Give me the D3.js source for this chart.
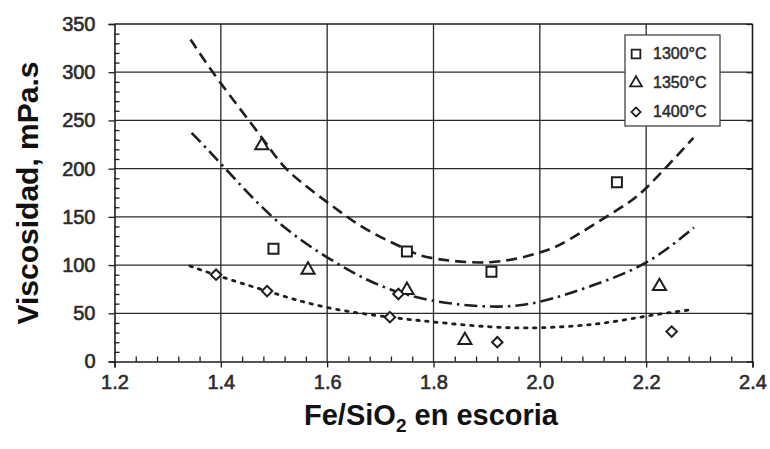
<!DOCTYPE html>
<html>
<head>
<meta charset="utf-8">
<script src="https://cdn.jsdelivr.net/npm/d3@7/dist/d3.min.js"></script>
<style>
  html, body { margin: 0; padding: 0; background: #fff; }
  svg { display: block; }
  text { font-family: "Liberation Sans", Arial, sans-serif; }
</style>
</head>
<body>
<svg id="chart" width="770" height="449"></svg>
<script>
// Axis ticks
const xTicks = [1.2, 1.4, 1.6, 1.8, 2.0, 2.2, 2.4];
const yTicks = [0, 50, 100, 150, 200, 250, 300, 350];

// Measured viscosity (mPa.s) against Fe/SiO2 ratio
const pts1300 = [[1.499, 117], [1.750, 114], [1.909, 93], [2.145, 186]];
const pts1350 = [[1.477, 224], [1.564, 95], [1.750, 74], [1.859, 22], [2.225, 78]];
const pts1400 = [[1.391, 90], [1.487, 73], [1.734, 70], [1.718, 46], [1.920, 20], [2.248, 31]];

// Fitted trend curves
const fit1300 = [[1.343, 334], [1.398, 290], [1.48, 230], [1.53, 196], [1.603, 164], [1.674, 137],
                 [1.75, 116], [1.8, 107], [1.906, 103], [2.0, 113], [2.057, 127], [2.145, 157],
                 [2.202, 181], [2.289, 232]];
const fit1350 = [[1.345, 237], [1.402, 204], [1.499, 149], [1.603, 107], [1.699, 79], [1.8, 63],
                 [1.91, 57], [2.0, 62], [2.1, 79], [2.201, 103], [2.29, 139]];
const fit1400 = [[1.342, 99], [1.4, 88], [1.487, 73], [1.6, 56], [1.718, 46], [1.8, 41],
                 [1.906, 36], [2.0, 35], [2.107, 39], [2.2, 47], [2.289, 54]];

const legendLabels = ["1300°C", "1350°C", "1400°C"];

const svg = d3.select("#chart");
const ink = "#1e1e1e";

const x = d3.scaleLinear().domain([1.2, 2.4]).range([114.5, 752.5]);
const y = d3.scaleLinear().domain([0, 350]).range([361.5, 24]);

const xMinor = d3.range(1.2, 2.4001, 0.04).filter(v => !xTicks.some(t => Math.abs(t - v) < 1e-6));
const yMinor = d3.range(0, 351, 10).filter(v => v % 50 !== 0);

// Grid
const grid = svg.append("g").attr("stroke", "#2a2a2a").attr("stroke-width", 1.3);
grid.selectAll(".gx").data(xTicks.slice(1, -1)).join("line")
  .attr("x1", d => x(d)).attr("x2", d => x(d)).attr("y1", y(350)).attr("y2", y(0));
grid.selectAll(".gy").data(yTicks.slice(1, -1)).join("line")
  .attr("x1", x(1.2)).attr("x2", x(2.4)).attr("y1", d => y(d)).attr("y2", d => y(d));

// Bottom axis: major ticks hang below, minor ticks point inward
svg.append("g").attr("transform", `translate(0,${y(0)})`)
  .call(d3.axisBottom(x).tickValues(xTicks).tickSize(6).tickPadding(7).tickFormat(d3.format(".1f")));
svg.append("g").attr("transform", `translate(0,${y(0)})`)
  .call(d3.axisBottom(x).tickValues(xMinor).tickSize(-5).tickFormat(""))
  .call(g => g.select(".domain").remove());

svg.append("g").attr("transform", `translate(${x(1.2)},0)`)
  .call(d3.axisLeft(y).tickValues(yTicks).tickSize(6).tickPadding(13).tickFormat(d3.format("d")));
svg.append("g").attr("transform", `translate(${x(1.2)},0)`)
  .call(d3.axisLeft(y).tickValues(yMinor).tickSize(-5).tickFormat(""))
  .call(g => g.select(".domain").remove());

svg.selectAll(".domain").attr("stroke", ink).attr("stroke-width", 1.6);
svg.selectAll(".tick line").attr("stroke", ink).attr("stroke-width", 1.3);
svg.selectAll(".tick text").attr("fill", "#2b2b2b").attr("font-size", 20)
  .attr("stroke", "#2b2b2b").attr("stroke-width", 0.6);

// Top and right border with inward ticks
svg.append("line").attr("x1", x(1.2)).attr("x2", x(2.4)).attr("y1", y(350)).attr("y2", y(350))
  .attr("stroke", ink).attr("stroke-width", 1.6);
svg.append("line").attr("x1", x(2.4)).attr("x2", x(2.4)).attr("y1", y(350)).attr("y2", y(0))
  .attr("stroke", ink).attr("stroke-width", 1.6);
svg.append("g").attr("transform", `translate(${x(2.4)},0)`)
  .call(d3.axisRight(y).tickValues(yTicks).tickSize(-6).tickFormat(""))
  .call(g => g.select(".domain").remove())
  .selectAll("line").attr("stroke", ink).attr("stroke-width", 1.3);

// Trend curves
const line = d3.line().x(d => x(d[0])).y(d => y(d[1])).curve(d3.curveNatural);
const curves = svg.append("g").attr("fill", "none").attr("stroke", ink).attr("stroke-width", 2.6);
curves.append("path").attr("d", line(fit1300)).attr("stroke-dasharray", "11,6");
curves.append("path").attr("d", line(fit1350)).attr("stroke-dasharray", "13,5,2.5,5");
curves.append("path").attr("d", line(fit1400)).attr("stroke-dasharray", "2.5,6.5")
  .attr("stroke-linecap", "round").attr("stroke-width", 2.8);

// Markers
const symSquare = d3.symbol().type(d3.symbolSquare).size(100);
const symTri = d3.symbol().type(d3.symbolTriangle).size(75);
const symDia = d3.symbol().type(d3.symbolSquare).size(55);

function drawMarkers(data, sym, rotate) {
  svg.append("g").selectAll("path").data(data).join("path")
    .attr("transform", d => `translate(${x(d[0])},${y(d[1])}) rotate(${rotate})`)
    .attr("d", sym()).attr("fill", "#fff").attr("stroke", ink).attr("stroke-width", 2);
}
drawMarkers(pts1300, symSquare, 0);
drawMarkers(pts1350, symTri, 0);
drawMarkers(pts1400, symDia, 45);

// Legend
const lg = svg.append("g").attr("transform", "translate(625,35)");
lg.append("rect").attr("width", 95).attr("height", 91).attr("fill", "#fff")
  .attr("stroke", "#444").attr("stroke-width", 1.3);
const syms = [[symSquare, 0], [symTri, 0], [symDia, 45]];
legendLabels.forEach((lab, i) => {
  const cy = 18 + i * 29;
  lg.append("path").attr("transform", `translate(11,${cy + 1}) rotate(${syms[i][1]})`)
    .attr("d", syms[i][0].size(i === 0 ? 75 : (i === 1 ? 60 : 42))())
    .attr("fill", "#fff").attr("stroke", ink).attr("stroke-width", 1.8);
  lg.append("text").attr("x", 28).attr("y", cy).attr("dy", "0.36em")
    .attr("font-size", 16).attr("fill", "#2b2b2b").attr("stroke", "#2b2b2b").attr("stroke-width", 0.5)
    .text(lab);
});

// Axis titles
svg.append("text").attr("transform", "translate(38,193) rotate(-90)")
  .attr("text-anchor", "middle").attr("font-size", 30).attr("font-weight", "bold").attr("fill", "#111")
  .text("Viscosidad, mPa.s");

const xt = svg.append("text").attr("x", 431).attr("y", 425)
  .attr("text-anchor", "middle").attr("font-size", 29).attr("font-weight", "bold").attr("fill", "#111");
xt.append("tspan").text("Fe/SiO");
xt.append("tspan").attr("font-size", 19).attr("dy", 7).text("2");
xt.append("tspan").attr("dy", -7).text(" en escoria");
</script>
</body>
</html>
